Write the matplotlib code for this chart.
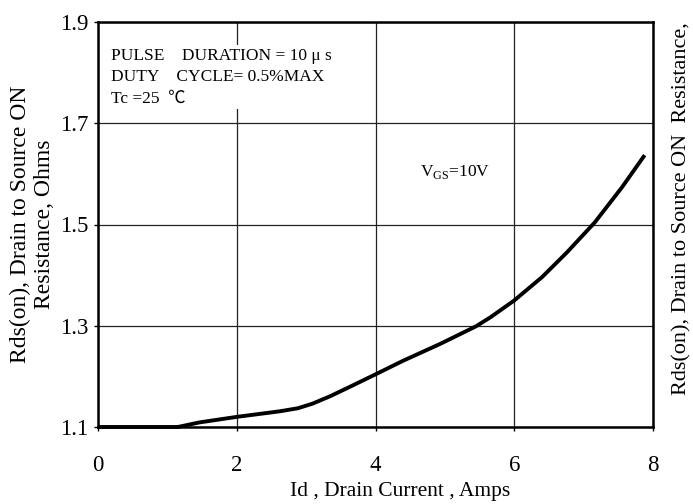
import matplotlib
matplotlib.use("Agg")
import matplotlib.pyplot as plt

# Data
id_amps = [0.0, 0.5, 1.15, 1.46, 2.0, 2.62, 2.88, 3.09, 3.35, 3.67, 4.0, 4.4,
           4.93, 5.45, 5.66, 6.0, 6.4, 6.76, 7.16, 7.55, 7.88]
rds_ohms = [1.100, 1.100, 1.100, 1.109, 1.120, 1.131, 1.137, 1.146, 1.161, 1.182,
            1.204, 1.231, 1.264, 1.299, 1.317, 1.350, 1.396, 1.445, 1.504, 1.573, 1.637]
x_ticks = [0, 2, 4, 6, 8]
y_ticks = [1.1, 1.3, 1.5, 1.7, 1.9]

plt.rcParams['font.family'] = ['Liberation Serif', 'DejaVu Serif']

fig = plt.figure(figsize=(6.93, 5.04), dpi=100)
ax = fig.add_axes([98/693, 1-427/504, 555/693, 405/504])

ax.plot(id_amps, rds_ohms, color='black', lw=2.8, solid_capstyle='butt', zorder=3, clip_on=False)

ax.set_xlim(0, 8)
ax.set_ylim(1.1, 1.9)
ax.set_xticks(x_ticks)
ax.set_yticks(y_ticks)
ax.set_xticklabels([str(v) for v in x_ticks])
ax.set_yticklabels([f"{v:.1f}" for v in y_ticks])
ax.tick_params(labelsize=16.5, length=3, width=1, color='black', pad=4)
ax.tick_params(axis='x', pad=17)
ax.grid(True, color='#222222', lw=0.9)
ax.set_axisbelow(True)
for s in ax.spines.values():
    s.set_linewidth(1.8)

ax.set_xlabel("Id , Drain Current , Amps", fontsize=15.5)
ax.xaxis.set_label_coords(0.545, -0.137)

fig.text(32.5/693, 1-224/504, "Rds(on), Drain to Source ON\nResistance, Ohms", fontsize=17,
         rotation=90, ha='center', va='center', linespacing=1.23, multialignment='center')

ax.text(0.023, 0.937, "PULSE    DURATION = 10 μ s\nDUTY    CYCLE= 0.5%MAX\nTc =25  ℃",
        transform=ax.transAxes, fontsize=12.5, va='top', ha='left', linespacing=1.45,
        family=['Liberation Serif', 'Noto Sans CJK JP', 'DejaVu Serif'],
        bbox=dict(facecolor='white', edgecolor='none', pad=2), zorder=4)

ax.text(5.15, 1.603, r"V$_{\mathregular{GS}}$=10V", fontsize=12.5, ha='center', va='center')

fig.text(682/693, 1-395/504, "Rds(on), Drain to Source ON  Resistance,",
         rotation=90, fontsize=16, ha='center', va='bottom')

fig.savefig("out.png", dpi=100)
